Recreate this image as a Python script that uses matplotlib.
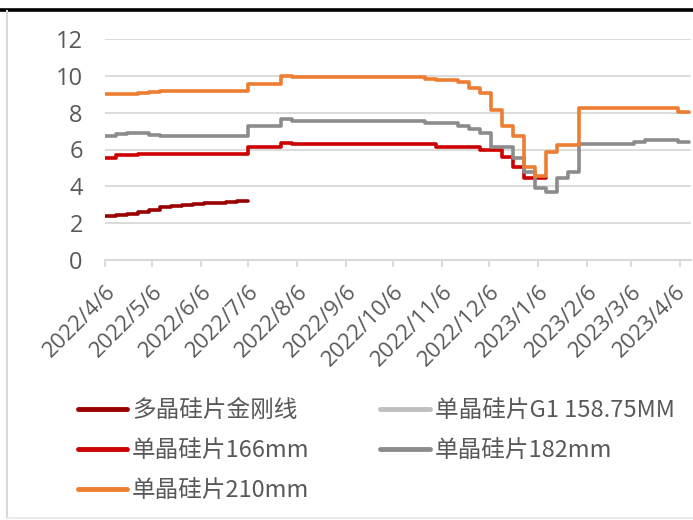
import matplotlib
matplotlib.use("Agg")
import matplotlib.pyplot as plt
from matplotlib.lines import Line2D
from matplotlib.transforms import ScaledTranslation
import numpy as np
import pandas as pd

plt.rcParams['font.family'] = ['Noto Sans CJK SC', 'DejaVu Sans']

# weekly quotes, 2022/4/6 .. 2023/4/12
weeks = pd.date_range("2022-04-06", periods=54, freq="7D")
nan = np.nan

poly_diamond = [2.39, 2.45, 2.52, 2.60, 2.72, 2.90, 2.95, 3.00, 3.05, 3.10,
                3.12, 3.15, 3.20] + [nan] * 41
mono_g1 = [nan] * 54
mono_166 = ([5.56, 5.70, 5.72, 5.74, 5.76] + [5.78] * 8 + [6.12] * 3 + [6.37]
            + [6.29] * 13 + [6.16] * 4 + [5.98] * 2 + [5.60, 5.07, 4.44, 4.44]
            + [nan] * 14)
mono_182 = ([6.74, 6.85, 6.88, 6.88, 6.80] + [6.76] * 8 + [7.28] * 3 + [7.66]
            + [7.55] * 12 + [7.43] * 3 + [7.28, 7.10, 6.88, 6.16, 6.16, 5.53,
            4.80, 3.90, 3.71, 4.44, 4.80] + [6.30] * 5 + [6.43] + [6.52] * 3
            + [6.40] * 2)
mono_210 = ([9.00, 9.00, 9.00, 9.05, 9.10, 9.15] + [9.18] * 7 + [9.58] * 3
            + [10.0] + [9.93] * 12 + [9.85, 9.75, 9.75, 9.64, 9.33, 9.06, 8.15,
            7.25, 6.74, 5.07, 4.58, 5.89, 6.25, 6.25] + [8.24] * 9 + [8.06] * 2)

names = ["多晶硅片金刚线", "单晶硅片G1 158.75MM", "单晶硅片166mm",
         "单晶硅片182mm", "单晶硅片210mm"]
series = [poly_diamond, mono_g1, mono_166, mono_182, mono_210]
colors = ["#990000", "#BFBFBF", "#CC0000", "#8C8C8C", "#ED7D31"]

tick_dates = pd.date_range("2022-04-01", "2023-04-01", freq="MS") + pd.Timedelta(days=5)
tick_labels = [f"{d.year}/{d.month}/{d.day}" for d in tick_dates]

fig = plt.figure(figsize=(6.93, 5.2), dpi=100)
ax = fig.add_axes([0.1515, 0.5, 0.8455, 0.425])

lines = {}
for name, vals, c in zip(names, series, colors):
    ln, = ax.plot(weeks, vals, color=c, lw=2.6, drawstyle="steps-post",
                  solid_capstyle="round", solid_joinstyle="round", label=name)
    lines[name] = ln

ax.set_ylim(0, 12)
ax.set_yticks(range(0, 13, 2))
ax.set_xlim(pd.Timestamp("2022-04-06"), pd.Timestamp("2023-04-13"))
ax.set_xticks(tick_dates)
ax.set_xticklabels(tick_labels)

grid_c = "#D9D9D9"
ax.grid(axis="y", color=grid_c, lw=1.3)
ax.set_axisbelow(True)
for s in ["top", "right", "left"]:
    ax.spines[s].set_visible(False)
ax.spines["bottom"].set_color(grid_c)
ax.spines["bottom"].set_linewidth(1.5)

ax.tick_params(axis="y", length=0, pad=16, labelsize=17, labelcolor="#595959")
ax.tick_params(axis="x", length=5, width=1.3, color=grid_c, pad=10,
               labelsize=16, labelcolor="#595959")
for lab in ax.get_yticklabels() + ax.get_xticklabels():
    lab.set_family(["Open Sans", "DejaVu Sans"])
for lab in ax.get_xticklabels():
    lab.set_rotation(45)
    lab.set_ha("right")
    lab.set_va("top")
    lab.set_rotation_mode("anchor")
# keep the last date inside the figure edge
last = ax.get_xticklabels()[-1]
last.set_transform(last.get_transform()
                   + ScaledTranslation(-0.05, 0, fig.dpi_scale_trans))

order = ["多晶硅片金刚线", "单晶硅片166mm", "单晶硅片210mm",
         "单晶硅片G1 158.75MM", "单晶硅片182mm"]
handles = [Line2D([], [], color=lines[n].get_color(), lw=3.5,
                  solid_capstyle="round") for n in order]
leg = fig.legend(handles, order, ncol=2, loc="upper left",
                 bbox_to_anchor=(0.112, 0.232), frameon=False, fontsize=17,
                 handlelength=2.1, handletextpad=0.2, columnspacing=3.0,
                 labelspacing=0.72, borderpad=0, borderaxespad=0)
for t in leg.get_texts():
    t.set_color("#595959")

# outer frame
fig.add_artist(Line2D([0, 1], [0.981, 0.981], color="black", lw=2.6,
                      transform=fig.transFigure))
fig.add_artist(Line2D([0.0095, 0.0095], [0.004, 0.978], color="#D9D9D9", lw=1.5,
                      transform=fig.transFigure))
fig.add_artist(Line2D([0.0095, 1], [0.004, 0.004], color="#E6E6E6", lw=1.2,
                      transform=fig.transFigure))

fig.savefig("out.png", dpi=100)
